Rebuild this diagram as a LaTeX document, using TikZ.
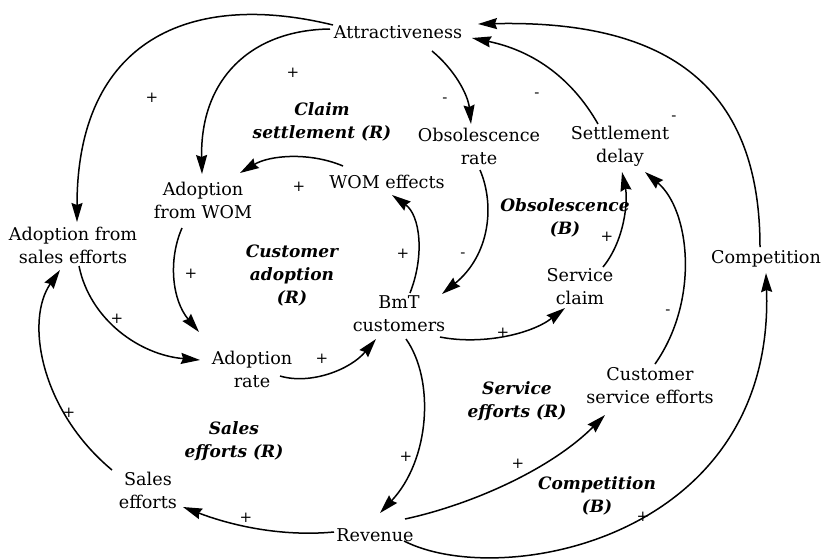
\documentclass[tikz,border=0pt]{standalone}
\usepackage{fontspec}
\setmainfont{DejaVu Serif}
\usetikzlibrary{arrows.meta}
\begin{document}
\begin{tikzpicture}[x=1pt,y=-1pt,
  var/.style={align=center, font=\fontsize{17.6}{23}\selectfont, inner sep=0pt},
  looplabel/.style={align=center, font=\fontsize{17}{23}\selectfont\bfseries\itshape, inner sep=0pt},
  pol/.style={font=\fontsize{15}{15}\selectfont, inner sep=0pt},
  link/.style={line width=1.5pt, -{Stealth[length=19pt,width=11pt,inset=2pt]}},
]
\useasboundingbox (0,0) rectangle (822,558);

% variables
\node[var] (attr)   at (398,32)  {Attractiveness};
\node[var] (obs)    at (479,146) {Obsolescence\\rate};
\node[var] (settle) at (620,146) {Settlement\\delay};
\node[var] (wom)    at (387,182) {WOM effects};
\node[var] (awom)   at (203,200) {Adoption\\from WOM};
\node[var] (ase)    at (73,245)  {Adoption from\\sales efforts};
\node[var] (bmt)    at (399,314) {BmT\\customers};
\node[var] (claim)  at (580,287) {Service\\claim};
\node[var] (comp)   at (766,259) {Competition};
\node[var] (arate)  at (252,369) {Adoption\\rate};
\node[var] (cse)    at (650,386) {Customer\\service efforts};
\node[var] (sales)  at (148,490) {Sales\\efforts};
\node[var] (rev)    at (375,535) {Revenue};

% loop names
\node[looplabel] (l1) at (322,122) {Claim\\settlement (R)};
\node[looplabel] (l2) at (292,276) {Customer\\adoption\\(R)};
\node[looplabel] (l3) at (565,218) {Obsolescence\\(B)};
\node[looplabel] (l4) at (517,401) {Service\\efforts (R)};
\node[looplabel] (l5) at (234,441) {Sales\\efforts (R)};
\node[looplabel] (l6) at (597,496) {Competition\\(B)};

% causal links
\draw[link] ([shift={(-65,-7)}]attr.center) .. controls (190,-10) and (77,40) .. ([shift={(4,-23)}]ase.center);
\draw[link] ([shift={(-68,-3)}]attr.center) .. controls (250,30) and (200,80) .. ([shift={(-1,-26)}]awom.center);
\draw[link] ([shift={(34,19)}]attr.center) .. controls (455,70) and (468,95) .. ([shift={(-8,-22)}]obs.center);
\draw[link] ([shift={(-22,-22)}]settle.center) .. controls (570,75) and (530,50) .. ([shift={(74,6)}]attr.center);
\draw[link] ([shift={(-6,-12)}]comp.center) .. controls (760,80) and (660,20) .. ([shift={(80,-8)}]attr.center);
\draw[link] ([shift={(-44,-16)}]wom.center) .. controls (310,152) and (270,155) .. ([shift={(37,-27)}]awom.center);
\draw[link] ([shift={(-21,28)}]awom.center) .. controls (168,260) and (172,300) .. ([shift={(-53,-37)}]arate.center);
\draw[link] ([shift={(6,21)}]ase.center) .. controls (90,320) and (140,355) .. ([shift={(-52,-9)}]arate.center);
\draw[link] ([shift={(28,7)}]arate.center) .. controls (310,385) and (350,370) .. ([shift={(-23,25)}]bmt.center);
\draw[link] ([shift={(11,-21)}]bmt.center) .. controls (425,255) and (420,215) .. ([shift={(5,13)}]wom.center);
\draw[link] ([shift={(1,24)}]obs.center) .. controls (495,205) and (490,255) .. ([shift={(43,-20)}]bmt.center);
\draw[link] ([shift={(41,23)}]bmt.center) .. controls (480,345) and (530,335) .. ([shift={(-15,21)}]claim.center);
\draw[link] ([shift={(23,-20)}]claim.center) .. controls (625,240) and (628,200) .. ([shift={(2,26)}]settle.center);
\draw[link] ([shift={(5,-22)}]cse.center) .. controls (700,300) and (690,210) .. ([shift={(25,26)}]settle.center);
\draw[link] ([shift={(7,25)}]bmt.center) .. controls (435,380) and (430,460) .. ([shift={(5,-22)}]rev.center);
\draw[link] ([shift={(-41,-3)}]rev.center) .. controls (280,537) and (230,525) .. ([shift={(35,17)}]sales.center);
\draw[link] ([shift={(-36,-20)}]sales.center) .. controls (40,410) and (25,320) .. ([shift={(-13,25)}]ase.center);
\draw[link] ([shift={(30,-16)}]rev.center) .. controls (470,505) and (550,470) .. ([shift={(-45,29)}]cse.center);
\draw[link] ([shift={(29,6)}]rev.center) .. controls (500,590) and (775,540) .. ([shift={(0,14)}]comp.center);

% link polarities
\node[pol] (p1)  at (152,98)  {+};
\node[pol] (p2)  at (293,73)  {+};
\node[pol] (p3)  at (445,100) {-};
\node[pol] (p4)  at (537,95)  {-};
\node[pol] (p5)  at (674,118) {-};
\node[pol] (p6)  at (299,187) {+};
\node[pol] (p7)  at (191,274) {+};
\node[pol] (p8)  at (117,319) {+};
\node[pol] (p9)  at (322,359) {+};
\node[pol] (p10) at (403,254) {+};
\node[pol] (p11) at (463,255) {-};
\node[pol] (p12) at (503,333) {+};
\node[pol] (p13) at (607,237) {+};
\node[pol] (p14) at (668,312) {-};
\node[pol] (p15) at (406,457) {+};
\node[pol] (p16) at (246,518) {+};
\node[pol] (p17) at (69,413)  {+};
\node[pol] (p18) at (518,464) {+};
\node[pol] (p19) at (643,517) {+};
\end{tikzpicture}
\end{document}
